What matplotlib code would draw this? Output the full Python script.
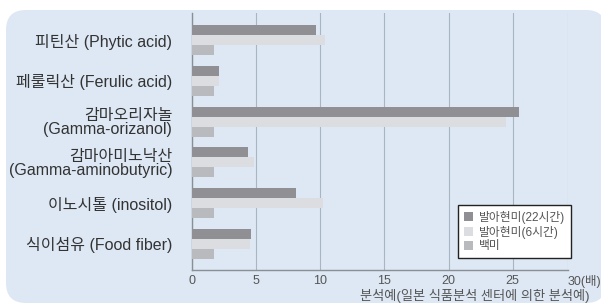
import matplotlib
matplotlib.use("Agg")
import matplotlib.pyplot as plt
from matplotlib.patches import FancyBboxPatch, Patch
import numpy as np

plt.rcParams['font.family'] = ['Liberation Sans', 'Noto Sans CJK KR', 'DejaVu Sans']

categories = ["피틴산 (Phytic acid)", "페룰릭산 (Ferulic acid)", "감마오리자놀\n(Gamma-orizanol)",
              "감마아미노낙산\n(Gamma-aminobutyric)", "이노시톨 (inositol)", "식이섬유 (Food fiber)"]
series_names = ["발아현미(22시간)", "발아현미(6시간)", "백미"]
germ22 = [9.7, 2.15, 25.5, 4.35, 8.1, 4.6]
germ6 = [10.4, 2.1, 24.5, 4.85, 10.25, 4.5]
white_rice = [1.75, 1.75, 1.75, 1.75, 1.75, 1.75]
tick_vals = [0, 5, 10, 15, 20, 25]
tick_labels = ["0", "5", "10", "15", "20", "25"]
x_end = 29.3
x_end_label = "30(배)"
xlabel = "분석예(일본 식품분석 센터에 의한 분석예)"

colors = ["#8f8f94", "#dcdde0", "#b9babe"]

fig = plt.figure(figsize=(6.01, 3.05), dpi=100)
fig.patch.set_facecolor("white")

bg = fig.add_axes([0, 0, 1, 1], zorder=0)
bg.set_xlim(0, 601)
bg.set_ylim(305, 0)
bg.axis("off")
bg.add_patch(FancyBboxPatch((6, 10), 600, 293, boxstyle="round,pad=0,rounding_size=20",
                            facecolor="#dde8f4", edgecolor="none"))

ax = fig.add_axes([0.319, 0.115, 0.626, 0.842], zorder=1)
ax.patch.set_alpha(0)
y = np.arange(len(categories))
h = 0.245
for i, (vals, c) in enumerate(zip([germ22, germ6, white_rice], colors)):
    ax.barh(y + (i - 1) * h, vals, height=h, color=c, label=series_names[i], zorder=3)

ax.set_xlim(0, x_end)
ax.set_ylim(5.64, -0.66)
ax.set_xticks(tick_vals + [x_end])
ax.set_xticklabels(tick_labels + [x_end_label], fontsize=9, color="#555555")
ax.get_xticklabels()[-1].set_horizontalalignment("left")
ax.set_yticks(y)
ax.set_yticklabels(categories, fontsize=11.5, color="#333333", linespacing=0.95)
ax.tick_params(axis="both", length=0, pad=4)
ax.tick_params(axis="y", pad=14)
ax.grid(axis="x", color="#a9b5c2", linewidth=0.8, zorder=1)
for s in ["top", "right"]:
    ax.spines[s].set_visible(False)
ax.spines["left"].set_color("#8a8f96")
ax.spines["bottom"].set_color("#8a8f96")
ax.spines["left"].set_linewidth(1.0)
ax.spines["bottom"].set_linewidth(1.0)

handles = [Patch(facecolor=c, edgecolor="none") for c in colors]
leg = ax.legend(handles, series_names, loc="upper left", bbox_to_anchor=(458/601, (305-205)/305),
                bbox_transform=fig.transFigure, fontsize=8.5, frameon=True, fancybox=False,
                edgecolor="#222222", facecolor="white", framealpha=1, handlelength=0.8,
                handleheight=0.8, handletextpad=0.5, labelspacing=0.15, borderpad=0.5,
                borderaxespad=0)
leg.get_frame().set_linewidth(1.0)
for t in leg.get_texts():
    t.set_color("#555555")

fig.text(590/601, (305-296)/305, xlabel, ha="right", va="center", fontsize=9.5, color="#555555")

fig.savefig("out.png", dpi=100)
